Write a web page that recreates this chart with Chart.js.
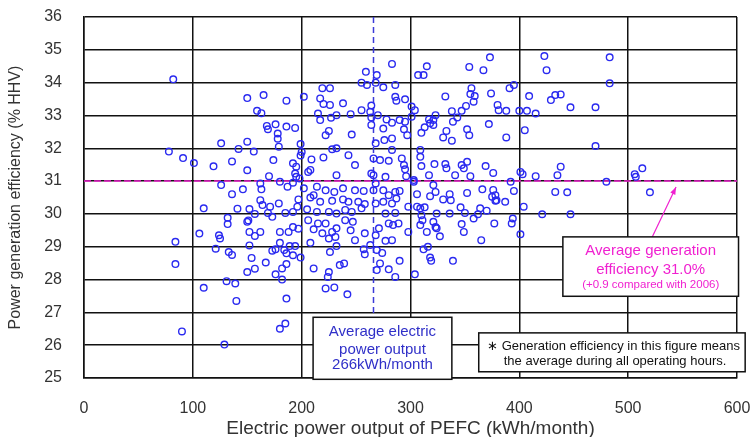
<!DOCTYPE html>
<html>
<head>
<meta charset="utf-8">
<script src="https://cdn.jsdelivr.net/npm/chart.js@4.4.1/dist/chart.umd.min.js"></script>
<style>
  html, body { margin: 0; padding: 0; background: #fff; }
  #wrap { width: 750px; height: 437px; }
</style>
</head>
<body>
<div id="wrap"><canvas id="effChart" width="750" height="437"></canvas></div>
<script>
// electric power output (kWh/month) and generation efficiency (% HHV) per unit
const outputKWh = [
  82,78,91,101,119,126,136,142,150,156,150,150,159,126,136,146,84,84,90,129,
  110,106,110,121,125,124,132,132,133,136,131,139,140,141,152,157,150,151,152,157,
  152,154,150,157,
  165,186,163,168,169,176,186,194,178,178,179,174,199,199,192,195,194,170,198,202,
  162,180,163,187,195,192,197,162,164,171,179,169,173,185,192,162,180,188,192,197,
  180,173,176,184,186,189,194,192,199,167,182,186,176,182,186,180,185,
  283,259,269,255,260,268,275,286,219,226,217,220,226,238,286,287,295,301,264,255,
  263,215,217,227,232,245,264,270,278,283,290,295,301,264,275,294,225,222,246,283,
  297,276,268,200,228,232,243,283,220,209,249,266,272,280,292,294,295,208,232,277,266,
  373,315,307,312,354,367,332,356,355,359,358,374,391,395,409,380,381,388,400,407,
  415,351,347,338,304,323,321,317,318,339,343,372,313,310,321,333,352,354,330,338,
  388,405,309,309,310,322,332,333,347,352,349,369,376,401,317,341,355,415,
  423,425,483,483,429,433,438,447,470,470,403,438,435,480,392,506,507,513,520,433,
  444,376,395,378,
  404,421,447,394,377,393,401,375,378,387,
  303,321,323,318,306,330,336,337,352,366,379,309,313,324,336,346,350,358,364,370,
  362,310,311,309,321,323,315,327,324,347,349,365,312,316,318,319,339,304,
  206,264,296,303,268,202,214,222,230,238,249,257,266,275,280,286,290,208,211,217,
  228,238,243,252,258,268,275,283,287,298,306,196,205,214,225,232,240,246,255,277,
  286,206,215,222,232,240,247,211,219,228,245,258,268,271,280,284,289,298,208,225,
  231,226,232,249,257,258,263,269,274,277,283,290,272,211,225,235,239,269,280,286,
  224,222,230,242
];
const efficiency = [
  34.1,31.9,31.7,31.55,31.45,32.15,31.6,31.98,32.2,31.9,31.33,33.53,33.14,30.88,30.6,30.75,29.15,28.47,26.42,26.02,
  30.17,29.4,27.75,28.94,29.25,29.35,29.88,29.69,28.84,28.75,27.95,27.88,27.35,30.16,30.15,30.0,29.76,29.8,29.45,29.33,
  29.04,28.66,28.23,28.33,
  33.62,33.45,33.07,32.68,32.58,32.73,32.66,32.62,32.45,32.29,32.05,31.64,32.13,31.78,31.54,31.44,31.23,31.15,31.08,33.57,
  30.93,30.98,30.75,30.83,31.13,30.95,30.44,30.42,30.27,30.22,30.32,30.03,29.91,30.03,30.06,29.45,29.45,29.45,29.6,29.55,
  29.12,28.88,28.92,28.9,28.8,29.02,29.02,28.74,28.67,28.52,28.34,28.47,28.16,28.0,27.42,26.5,26.66,
  34.57,34.33,34.23,34.0,33.93,34.0,33.86,33.93,33.83,33.83,33.52,33.35,33.32,33.37,33.57,33.45,33.49,33.27,33.3,33.16,
  33.11,33.06,32.86,32.93,33.01,33.04,32.94,33.01,32.88,32.78,32.86,32.81,32.96,32.71,32.6,32.58,32.53,32.4,32.42,32.3,
  32.4,32.25,32.15,31.89,31.97,32.0,31.79,31.95,31.72,31.66,31.49,31.69,31.64,31.62,31.69,31.49,31.36,31.34,31.18,31.13,31.18,
  34.77,34.5,34.23,34.23,34.48,34.38,33.58,33.83,33.65,33.59,33.42,33.67,33.83,33.93,33.59,33.32,33.16,33.14,33.14,33.14,
  33.06,33.29,33.14,33.13,33.16,33.01,32.86,32.88,32.76,32.81,32.94,32.74,32.64,32.47,32.71,32.53,32.58,32.4,32.33,32.23,
  32.33,32.55,31.95,31.74,31.46,31.52,31.52,31.39,31.49,31.59,31.39,31.46,31.25,31.28,31.18,31.18,31.15,31.15,
  34.81,34.38,34.77,33.98,33.47,33.62,33.64,33.25,33.25,32.07,31.21,31.44,31.18,30.98,30.98,31.21,31.13,31.39,30.66,30.67,
  30.66,30.73,30.7,30.57,
  30.22,29.99,29.99,29.86,29.71,29.71,29.38,30.52,30.4,30.37,
  30.98,30.88,30.67,30.54,30.6,30.44,30.6,30.42,30.64,30.75,30.42,30.17,30.2,30.01,30.01,30.2,30.03,29.86,30.17,30.1,
  29.99,29.96,29.81,29.66,29.76,29.6,29.45,29.32,29.56,29.69,29.45,29.2,28.92,29.0,28.67,28.57,28.57,28.16,
  31.28,31.23,31.15,31.03,30.93,30.78,30.83,30.72,30.67,30.78,30.72,30.7,30.72,30.72,30.57,30.67,30.7,30.5,30.57,30.37,
  30.4,30.44,30.37,30.37,30.3,30.32,30.37,30.32,30.47,30.22,30.22,30.22,30.14,30.06,30.06,30.01,30.12,30.06,30.17,30.01,
  30.03,29.81,29.71,29.71,29.56,29.81,29.76,29.53,29.41,29.45,29.5,29.41,29.35,29.56,29.71,29.66,29.71,29.45,29.12,29.25,
  29.3,28.84,29.02,29.2,28.92,28.77,29.05,28.9,28.81,29.18,29.2,28.57,28.49,28.34,28.23,28.44,28.49,28.29,28.31,28.08,
  28.08,27.73,27.76,27.55
];
const avgOutput = 266;      // kWh/month
const avgEfficiency = 31.0; // % HHV
const xTicks = [0, 100, 200, 300, 400, 500, 600];
const yTicks = [25, 26, 27, 28, 29, 30, 31, 32, 33, 34, 35, 36];

const FONT = "'Liberation Sans', Arial, sans-serif";

// boxes and arrow drawn on top (positions in data units)
const notesPlugin = {
  id: 'notes',
  afterDatasetsDraw(chart) {
    const ctx = chart.ctx;
    const sx = chart.scales.x, sy = chart.scales.y;
    const px = v => sx.getPixelForValue(v);
    const py = v => sy.getPixelForValue(v);

    function box(x0, x1, y0, y1) {
      const l = px(x0), r = px(x1), t = py(y0), b = py(y1);
      ctx.fillStyle = '#fff';
      ctx.fillRect(l, t, r - l, b - t);
      ctx.strokeStyle = '#111';
      ctx.lineWidth = 1.5;
      ctx.strokeRect(l, t, r - l, b - t);
      return { l, r, t, b, cx: (l + r) / 2 };
    }

    ctx.save();
    ctx.textBaseline = 'middle';

    // average output box
    let b = box(210.5, 338, 26.85, 24.96);
    ctx.fillStyle = '#3030c8';
    ctx.textAlign = 'center';
    ctx.font = '15px ' + FONT;
    ctx.fillText('Average electric', b.cx, b.t + 15);
    ctx.fillText('power output', b.cx, b.t + 33);
    ctx.fillText('266kWh/month', b.cx, b.t + 48);

    // note box
    b = box(362.7, 607.5, 26.375, 25.19);
    ctx.fillStyle = '#111';
    ctx.textAlign = 'left';
    ctx.font = '13px ' + FONT;
    ctx.fillText('\u2217', b.l + 8, b.t + 14);
    ctx.fillText('Generation efficiency in this figure means', b.l + 23, b.t + 13.5);
    ctx.fillText('the average during all operating hours.', b.l + 25, b.t + 29);

    // arrow to the average efficiency line
    const tx = px(544), ty = py(30.82), fx = px(522), fy = py(29.29);
    ctx.strokeStyle = '#f020d0';
    ctx.fillStyle = '#f020d0';
    ctx.lineWidth = 1.2;
    ctx.beginPath(); ctx.moveTo(fx, fy); ctx.lineTo(tx, ty); ctx.stroke();
    const ang = Math.atan2(ty - fy, tx - fx);
    ctx.beginPath();
    ctx.moveTo(tx, ty);
    ctx.lineTo(tx - 8 * Math.cos(ang - 0.35), ty - 8 * Math.sin(ang - 0.35));
    ctx.lineTo(tx - 8 * Math.cos(ang + 0.35), ty - 8 * Math.sin(ang + 0.35));
    ctx.closePath(); ctx.fill();

    // average efficiency box
    b = box(440, 601.4, 29.3, 27.49);
    ctx.fillStyle = '#f020d0';
    ctx.textAlign = 'center';
    ctx.font = '15px ' + FONT;
    ctx.fillText('Average generation', b.cx, b.t + 13.5);
    ctx.fillText('efficiency 31.0%', b.cx, b.t + 32.5);
    ctx.font = '11.5px ' + FONT;
    ctx.fillText('(+0.9 compared with 2006)', b.cx, b.t + 47.5);

    ctx.restore();
  }
};

const points = outputKWh.map((x, i) => ({ x: x, y: efficiency[i] }));

new Chart(document.getElementById('effChart'), {
  type: 'scatter',
  data: {
    datasets: [
      {
        type: 'line',
        data: [{ x: 0, y: avgEfficiency }, { x: 600, y: avgEfficiency }],
        borderColor: '#f020d0', borderWidth: 1.5, borderDash: [7, 3],
        pointRadius: 0, fill: false, order: 3
      },
      {
        type: 'line',
        data: [{ x: avgOutput, y: 36 }, { x: avgOutput, y: 26.85 }],
        borderColor: '#3a3ad8', borderWidth: 1.5, borderDash: [6, 4],
        pointRadius: 0, fill: false, order: 2
      },
      {
        data: points,
        pointStyle: 'circle',
        pointRadius: 3.3,
        pointHoverRadius: 3.3,
        borderWidth: 1.4,
        borderColor: '#2a2af0',
        backgroundColor: 'rgba(255,255,255,0)',
        order: 1
      }
    ]
  },
  options: {
    responsive: false,
    devicePixelRatio: 1,
    animation: false,
    layout: { padding: { left: 0, right: 13, top: 17, bottom: 0 } },
    plugins: { legend: { display: false }, tooltip: { enabled: false } },
    scales: {
      x: {
        type: 'linear', min: 0, max: 600,
        afterBuildTicks: s => { s.ticks = xTicks.map(v => ({ value: v })); },
        afterFit: s => { s.height = 59; s.paddingLeft = 0; s.paddingRight = 0; },
        grid: { color: '#111', lineWidth: 1.5, drawTicks: false },
        border: { color: '#111', width: 1.5 },
        ticks: { padding: 21, color: '#333', font: { family: FONT, size: 16 } },
        title: { display: true, text: 'Electric power output of PEFC (kWh/month)',
                 color: '#333', font: { family: FONT, size: 19 }, padding: { top: 0, bottom: -3 } }
      },
      y: {
        type: 'linear', min: 25, max: 36,
        afterBuildTicks: s => { s.ticks = yTicks.map(v => ({ value: v })); },
        afterFit: s => { s.width = 84; s.paddingTop = 0; s.paddingBottom = 0; },
        grid: { color: '#111', lineWidth: 1.5, drawTicks: false },
        border: { color: '#111', width: 1.5 },
        ticks: { padding: 22, color: '#333', font: { family: FONT, size: 16 } },
        title: { display: true, text: 'Power generation efficiency (% HHV)',
                 color: '#333', font: { family: FONT, size: 16 }, padding: { top: 6, bottom: 0 } }
      }
    }
  },
  plugins: [notesPlugin]
});
</script>
</body>
</html>
